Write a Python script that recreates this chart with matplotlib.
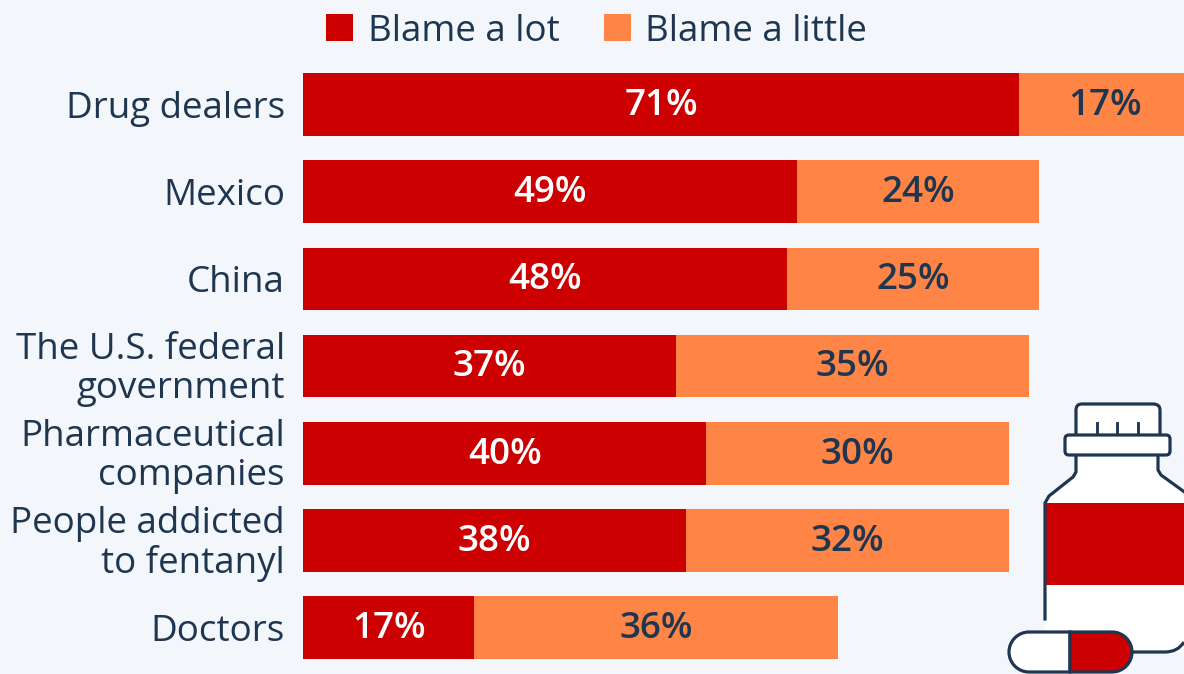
import matplotlib
matplotlib.use("Agg")
import matplotlib.pyplot as plt
from matplotlib.patches import Rectangle, FancyBboxPatch, PathPatch
from matplotlib.path import Path
from matplotlib.transforms import ScaledTranslation

categories = ["Drug dealers", "Mexico", "China", "The U.S. federal\ngovernment",
              "Pharmaceutical\ncompanies", "People addicted\nto fentanyl", "Doctors"]
blame_a_lot = [71, 49, 48, 37, 40, 38, 17]
blame_a_little = [17, 24, 25, 35, 30, 32, 36]
series_names = ["Blame a lot", "Blame a little"]

BG = "#f3f7fb"; RED = "#cc0000"; ORANGE = "#ff8547"; INK = "#1f3650"
W, H = 1184, 674
plt.rcParams["font.family"] = ["Open Sans", "DejaVu Sans"]

fig = plt.figure(figsize=(W / 100, H / 100), dpi=100, facecolor=BG)

# bars
left, top, pitch = 303, 60.9, 87.2
ax = fig.add_axes([left / W, 1 - (top + 7 * pitch) / H, (W - left) / W, 7 * pitch / H])
ax.set_facecolor("none")
ys = list(range(len(categories)))
ax.barh(ys, blame_a_lot, height=0.72, color=RED, label=series_names[0])
ax.barh(ys, blame_a_little, left=blame_a_lot, height=0.72, color=ORANGE, label=series_names[1])
ax.set_xlim(0, (W - left) / 10.085)
ax.set_ylim(6.5, -0.5)
for s in ax.spines.values():
    s.set_visible(False)
ax.set_xticks([])
ax.set_yticks(ys)
ax.set_yticklabels(categories, fontsize=26.5, color=INK, linespacing=1.12)
ax.tick_params(axis="y", length=0, pad=13)
for lab in ax.get_yticklabels():
    lab.set_multialignment("right")
    if "\n" in lab.get_text():
        lab.set_transform(lab.get_transform() + ScaledTranslation(0, 3 / 100, fig.dpi_scale_trans))
for y, a, b in zip(ys, blame_a_lot, blame_a_little):
    ax.text(a / 2, y + 0.015, f"{a}%", ha="center", va="center", color="white", fontsize=26.5, fontweight="semibold")
    ax.text(a + b / 2, y + 0.015, f"{b}%", ha="center", va="center", color=INK, fontsize=26.5, fontweight="semibold",
            clip_on=False)

# overlay in reference pixel coordinates for legend and icon
ov = fig.add_axes([0, 0, 1, 1])
ov.set_xlim(0, W); ov.set_ylim(H, 0); ov.axis("off"); ov.patch.set_alpha(0)

ov.add_patch(Rectangle((326, 14), 27, 27, fc=RED, ec="none"))
ov.text(368, 32, series_names[0], fontsize=26.5, color=INK, va="center", ha="left")
ov.add_patch(Rectangle((604, 14), 27, 27, fc=ORANGE, ec="none"))
ov.text(645, 32, series_names[1], fontsize=26.5, color=INK, va="center", ha="left")

lw = 2.3
# bottle body
verts = [(1045, 625), (1045, 500), (1076, 472), (1076, 450), (1158, 450), (1158, 470),
         (1190, 496), (1190, 652), (1045, 652), (1045, 625)]
ov.add_patch(PathPatch(Path(verts), fc="white", ec="none", zorder=2))
ov.add_patch(Rectangle((1045, 503), 145, 82, fc=RED, ec="none", zorder=3))
ov.plot([1045, 1045, 1049, 1073, 1076, 1076], [619, 503, 496, 477, 472, 456], color=INK, lw=lw, zorder=4)
ov.plot([1158, 1158, 1161, 1190], [456, 470, 475, 496], color=INK, lw=lw, zorder=4)
ov.add_patch(PathPatch(Path([(1130, 652), (1165, 652), (1178, 652), (1184, 642)],
                            [Path.MOVETO, Path.LINETO, Path.CURVE3, Path.CURVE3]),
                       fc="none", ec=INK, lw=lw, zorder=4))
# cap
ov.add_patch(PathPatch(Path([(1076, 434), (1076, 410), (1076, 404), (1082, 404), (1153, 404), (1160, 404), (1160, 410), (1160, 434)],
                            [Path.MOVETO, Path.LINETO, Path.CURVE3, Path.CURVE3, Path.LINETO, Path.CURVE3, Path.CURVE3, Path.LINETO]),
                       fc="white", ec=INK, lw=lw, zorder=4))
for x in (1097, 1117, 1138):
    ov.plot([x, x], [423, 434], color=INK, lw=lw * 0.9, zorder=5)
ov.add_patch(FancyBboxPatch((1065, 435), 105, 20, boxstyle="round,pad=0,rounding_size=4",
                            fc="white", ec=INK, lw=lw, zorder=5))
# pill
pill_y0, pill_y1, r = 632, 672, 20
x0, x1, xm = 1009, 1132, 1070
k = 0.5523 * r
pts = [(x0 + r, pill_y0), (xm, pill_y0), (xm, pill_y1), (x0 + r, pill_y1),
       (x0 + r - k, pill_y1), (x0, pill_y0 + r + k), (x0, pill_y0 + r),
       (x0, pill_y0 + r - k), (x0 + r - k, pill_y0), (x0 + r, pill_y0)]
codes = [Path.MOVETO, Path.LINETO, Path.LINETO, Path.LINETO,
         Path.CURVE4, Path.CURVE4, Path.CURVE4, Path.CURVE4, Path.CURVE4, Path.CURVE4]
ov.add_patch(PathPatch(Path(pts, codes), fc="white", ec=INK, lw=lw, zorder=6, clip_on=False))
pts = [(x1 - r, pill_y0), (xm, pill_y0), (xm, pill_y1), (x1 - r, pill_y1),
       (x1 - r + k, pill_y1), (x1, pill_y0 + r + k), (x1, pill_y0 + r),
       (x1, pill_y0 + r - k), (x1 - r + k, pill_y0), (x1 - r, pill_y0)]
ov.add_patch(PathPatch(Path(pts, codes), fc=RED, ec=INK, lw=lw, zorder=6, clip_on=False))

fig.savefig("out.png", dpi=100, facecolor=BG)
